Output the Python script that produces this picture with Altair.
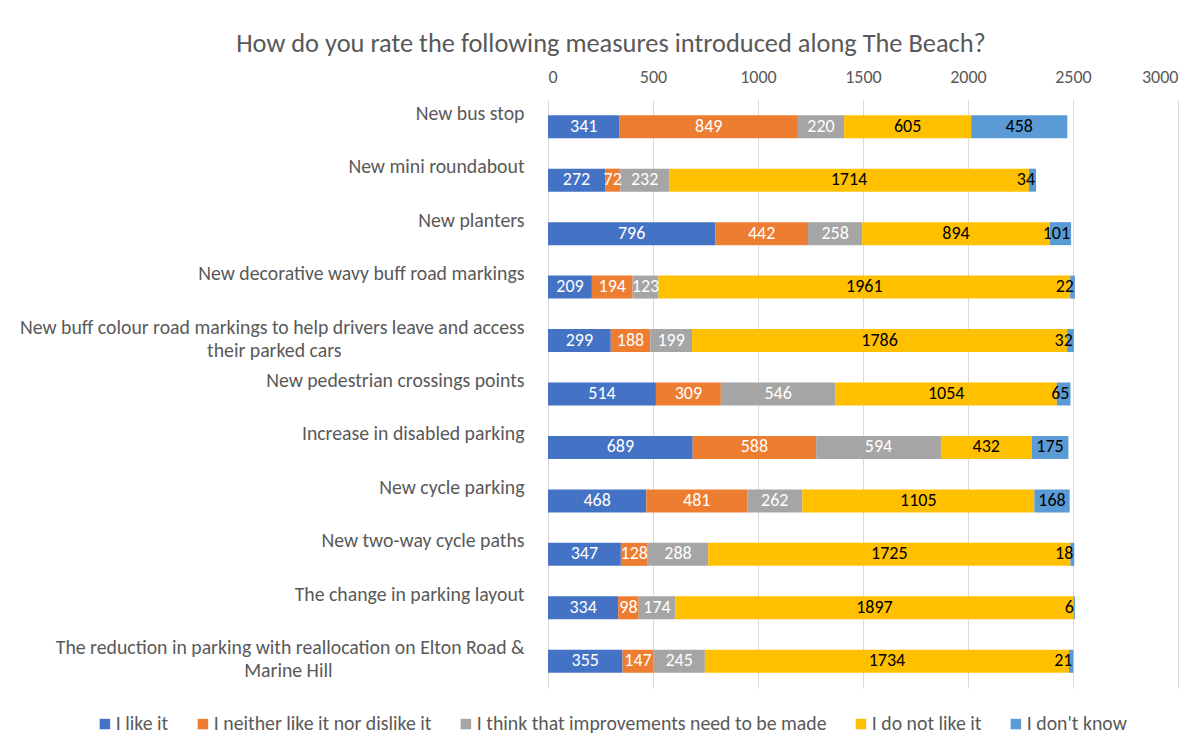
import altair as alt
import pandas as pd

FONT = "Carlito, Calibri, 'Noto Sans', sans-serif"
GREY = "#595959"
PAD = "\u00a0"
END = "\u200b"

# category display labels (second lines padded so they sit centred under the first line)
categories = [
    "New bus stop",
    "New mini roundabout",
    "New planters",
    "New decorative wavy buff road markings",
    "New buff colour road markings to help drivers leave and access\ntheir parked cars" + PAD * 41 + END,
    "New pedestrian crossings points",
    "Increase in disabled parking",
    "New cycle parking",
    "New two-way cycle paths",
    "The change in parking layout",
    "The reduction in parking with reallocation on Elton Road &\nMarine Hill" + PAD * 43 + END,
]

series = [
    "I like it",
    "I neither like it nor dislike it",
    "I think that improvements need to be made",
    "I do not like it",
    "I don't know",
]
colors = ["#4472C4", "#ED7D31", "#A5A5A5", "#FFC000", "#5B9BD5"]
label_colors = ["white", "white", "white", "black", "black"]

like_it = [341, 272, 796, 209, 299, 514, 689, 468, 347, 334, 355]
neither = [849, 72, 442, 194, 188, 309, 588, 481, 128, 98, 147]
improve = [220, 232, 258, 123, 199, 546, 594, 262, 288, 174, 245]
dislike = [605, 1714, 894, 1961, 1786, 1054, 432, 1105, 1725, 1897, 1734]
dont_know = [458, 34, 101, 22, 32, 65, 175, 168, 18, 6, 21]

x_ticks = [0, 500, 1000, 1500, 2000, 2500, 3000]

rows = []
for s_i, (name, vals) in enumerate(zip(series, [like_it, neither, improve, dislike, dont_know])):
    for c, v in zip(categories, vals):
        rows.append({"category": c, "series": name, "value": v, "order": s_i,
                     "tcolor": label_colors[s_i]})
df = pd.DataFrame(rows)

base = alt.Chart(df).transform_stack(
    stack="value", groupby=["category"], as_=["x0", "x1"],
    sort=[alt.SortField("order", order="ascending")]
).transform_calculate(
    mid="(datum.x0 + datum.x1) / 2",
    small_end="datum.order == 4 && datum.value < 130",
)

y_enc = alt.Y(
    "category:N", sort=categories, title=None,
    axis=alt.Axis(labelExpr="split(datum.label, '\\n')", domain=False, ticks=False,
                  labelPadding=24, labelFontSize=19.75, labelColor=GREY, labelFont=FONT,
                  labelLineHeight=23, labelOffset=-13, labelLimit=700),
)

bars = base.mark_bar(size=23).encode(
    x=alt.X("x0:Q", scale=alt.Scale(domain=[0, 3000], nice=False), title=None,
            axis=alt.Axis(orient="top", values=x_ticks, format="d", domain=False, ticks=False,
                          grid=True, gridColor="#D9D9D9", labelFontSize=18,
                          labelColor=GREY, labelFont=FONT, labelPadding=14)),
    x2="x1:Q",
    y=y_enc,
    color=alt.Color("series:N", sort=series,
                    scale=alt.Scale(domain=series, range=colors),
                    legend=alt.Legend(title=None, orient="none", direction="horizontal",
                                      legendX=-453, legendY=614, symbolType="square",
                                      symbolSize=110, symbolStrokeWidth=0,
                                      labelFontSize=19.8, labelColor=GREY, labelFont=FONT,
                                      labelOffset=1, columnPadding=24, labelLimit=500)),
    order=alt.Order("order:Q"),
)

labels_mid = base.transform_filter("!datum.small_end").mark_text(
    fontSize=18, font=FONT, baseline="middle", align="center").encode(
    x=alt.X("mid:Q"),
    y=alt.Y("category:N", sort=categories),
    text=alt.Text("value:Q"),
    color=alt.Color("tcolor:N", scale=None),
)

labels_end = base.transform_filter("datum.small_end").mark_text(
    fontSize=18, font=FONT, baseline="middle", align="right", dx=-1).encode(
    x=alt.X("x1:Q"),
    y=alt.Y("category:N", sort=categories),
    text=alt.Text("value:Q"),
    color=alt.Color("tcolor:N", scale=None),
)

chart = alt.layer(bars, labels_mid, labels_end).properties(
    width=630, height=588,
    title=alt.TitleParams("How do you rate the following measures introduced along The Beach?",
                          anchor="middle", dx=-252, fontSize=26.4, font=FONT,
                          fontWeight="normal", color=GREY, offset=11),
    autosize=alt.AutoSizeParams(type="none"),
    padding={"left": 540, "top": 92, "right": 10, "bottom": 50},
).configure_view(stroke=None)

chart.save("out.html", embed_options={"renderer": "svg", "actions": False})
